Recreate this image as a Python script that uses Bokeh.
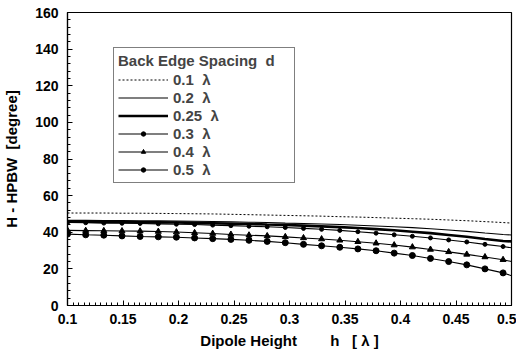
from bokeh.plotting import figure
from bokeh.models import Range1d, Legend, LegendItem, FixedTicker
from bokeh.embed import file_html
from bokeh.resources import INLINE

# Dipole height h [lambda]
h = [0.1, 0.1164, 0.1327, 0.1491, 0.1654, 0.1818, 0.1981, 0.2145, 0.2308, 0.2472,
     0.2635, 0.2799, 0.2962, 0.3126, 0.3289, 0.3453, 0.3616, 0.378, 0.3943, 0.4107,
     0.427, 0.4434, 0.4597, 0.4761, 0.4924, 0.5]

d_01 = [50.5, 50.5, 50.5, 50.4, 50.4, 50.3, 50.2, 50.1, 50.0, 49.8, 49.6, 49.4, 49.2,
        49.0, 48.8, 48.5, 48.3, 48.0, 47.7, 47.4, 47.1, 46.7, 46.3, 45.8, 45.3, 45.0]
d_02 = [46.5, 46.5, 46.4, 46.4, 46.3, 46.2, 46.1, 46.0, 45.9, 45.7, 45.5, 45.3, 45.0,
        44.8, 44.5, 44.2, 43.8, 43.4, 43.0, 42.5, 41.9, 41.2, 40.5, 39.6, 38.8, 38.5]
d_025 = [45.8, 45.8, 45.7, 45.6, 45.5, 45.4, 45.3, 45.1, 44.9, 44.7, 44.5, 44.2, 44.0,
         43.6, 43.2, 42.8, 42.3, 41.7, 41.1, 40.3, 39.5, 38.5, 37.5, 36.3, 35.2, 35.0]
d_03 = [45.3, 45.2, 45.0, 44.9, 44.8, 44.6, 44.4, 44.2, 43.9, 43.6, 43.3, 43.0, 42.6,
        42.1, 41.6, 41.0, 40.3, 39.5, 38.6, 37.8, 36.9, 35.8, 34.7, 33.4, 32.2, 31.5]
d_04 = [41.0, 40.9, 40.8, 40.7, 40.6, 40.4, 40.1, 39.7, 39.3, 38.8, 38.4, 38.0, 37.5,
        36.9, 36.3, 35.6, 34.8, 34.0, 33.0, 31.9, 30.6, 29.3, 27.9, 26.5, 25.0, 24.0]
d_05 = [39.0, 38.6, 38.4, 38.0, 37.7, 37.5, 37.3, 36.9, 36.5, 36.1, 35.6, 35.0, 34.3,
        33.4, 32.6, 31.8, 30.9, 29.9, 28.6, 27.3, 25.7, 24.0, 22.2, 20.0, 17.8, 16.3]

NB = "\u00a0"
labels = ["0.1" + NB * 2 + "λ", "0.2" + NB * 2 + "λ", "0.25" + NB * 2 + "λ",
          "0.3" + NB * 2 + "λ", "0.4" + NB * 2 + "λ", "0.5" + NB * 2 + "λ"]
legend_title = "Back Edge Spacing" + NB * 2 + "d"
x_title = "Dipole Height" + NB * 8 + "h" + NB * 3 + "[" + NB + "λ" + NB + "]"
y_title = "H - HPBW" + NB * 2 + "[degree]"
x_ticks = [0.1, 0.15, 0.2, 0.25, 0.3, 0.35, 0.4, 0.45, 0.5]
x_minor = [round(0.1 + 0.005 * i, 3) for i in range(81)]
y_ticks = [0, 20, 40, 60, 80, 100, 120, 140, 160]
y_minor = list(range(0, 161, 4))

FONT = "Liberation Sans"

p = figure(width=516, height=352, output_backend="svg", toolbar_location=None,
           x_range=Range1d(0.1, 0.5), y_range=Range1d(0, 160),
           min_border_left=67, min_border_right=5, min_border_top=12, min_border_bottom=47)

p.grid.visible = False
p.outline_line_color = "black"
p.outline_line_width = 1.2
p.background_fill_color = "white"
p.border_fill_color = "white"

p.xaxis.ticker = FixedTicker(ticks=x_ticks, minor_ticks=x_minor)
p.yaxis.ticker = FixedTicker(ticks=y_ticks, minor_ticks=y_minor)

for ax in (p.xaxis[0], p.yaxis[0]):
    ax.major_tick_in = 5
    ax.major_tick_out = 0
    ax.minor_tick_in = 3
    ax.minor_tick_out = 0
    ax.axis_line_color = "black"
    ax.axis_line_width = 1.2
    ax.major_label_text_font = FONT
    ax.major_label_text_font_style = "bold"
    ax.major_label_text_font_size = "14px"
    ax.major_label_text_color = "black"
    ax.axis_label_text_font = FONT
    ax.axis_label_text_font_style = "bold"
    ax.axis_label_text_font_size = "15px"
    ax.axis_label_text_color = "black"

p.xaxis.axis_label = x_title
p.yaxis.axis_label = y_title
p.xaxis.major_label_standoff = 8
p.xaxis.axis_label_standoff = 5
p.yaxis.major_label_standoff = 9
p.yaxis.axis_label_standoff = 12

m = len(h) - 1  # markers on all but the closing point

r1 = p.line(h, d_01, line_color="black", line_width=1, line_dash="2 2")
r2 = p.line(h, d_02, line_color="black", line_width=1.1)
r3 = p.line(h, d_025, line_color="black", line_width=2.6)
r4 = p.line(h, d_03, line_color="black", line_width=1.1)
r4m = p.scatter(h[:m], d_03[:m], marker="circle", size=4, color="black")
r5 = p.line(h, d_04, line_color="black", line_width=1.1)
r5m = p.scatter(h[:m], d_04[:m], marker="triangle", size=6, color="black")
r6 = p.line(h, d_05, line_color="black", line_width=1.1)
r6m = p.scatter(h[:m], d_05[:m], marker="circle", size=6, color="black")

items = [
    LegendItem(label=labels[0], renderers=[r1]),
    LegendItem(label=labels[1], renderers=[r2]),
    LegendItem(label=labels[2], renderers=[r3]),
    LegendItem(label=labels[3], renderers=[r4, r4m]),
    LegendItem(label=labels[4], renderers=[r5, r5m]),
    LegendItem(label=labels[5], renderers=[r6, r6m]),
]
legend = Legend(items=items, location=(46, 122), title=legend_title,
                title_text_font=FONT, title_text_font_style="bold",
                title_text_font_size="15px", title_standoff=1,
                label_text_font=FONT, label_text_font_style="bold",
                label_text_font_size="15px", label_standoff=5,
                glyph_width=50, glyph_height=11, label_height=18, label_width=117,
                spacing=0, padding=4, margin=0,
                border_line_color="black", border_line_width=1.5,
                background_fill_alpha=1.0)
p.add_layout(legend, "center")

open("out.html", "w").write(file_html(p, INLINE))
